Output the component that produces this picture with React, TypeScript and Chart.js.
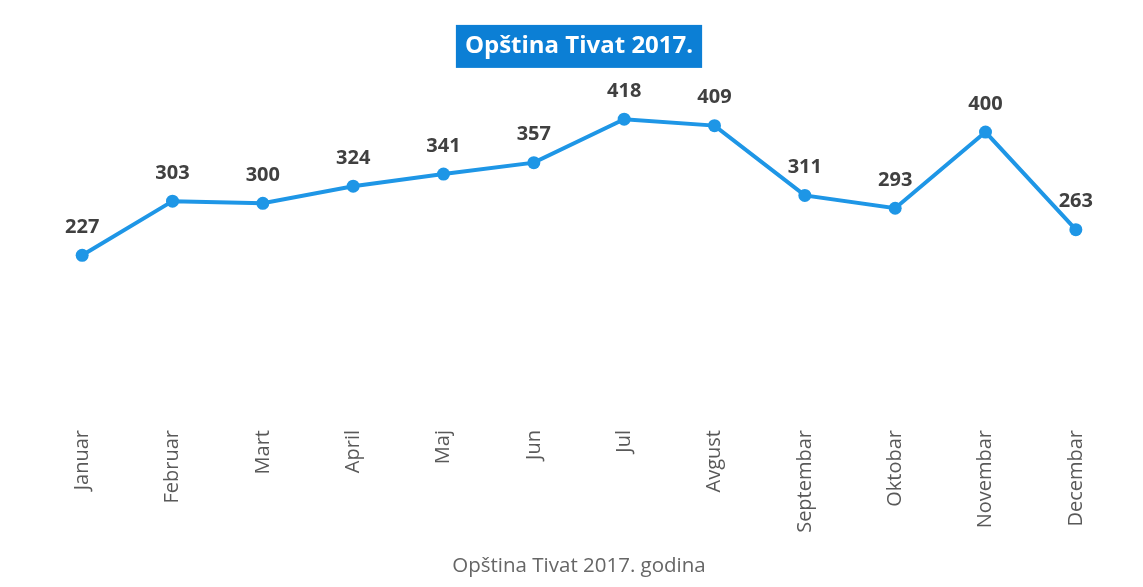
import React, { useEffect, useRef } from "react";
import { Chart, registerables } from "chart.js";

Chart.register(...registerables);

const months = [
  "Januar", "Februar", "Mart", "April", "Maj", "Jun",
  "Jul", "Avgust", "Septembar", "Oktobar", "Novembar", "Decembar",
];
const values = [227, 303, 300, 324, 341, 357, 418, 409, 311, 293, 400, 263];
const chartTitle = "Opština Tivat 2017.";
const seriesName = "Opština Tivat 2017. godina";

const LINE_COLOR = "#1e96e6";
const TITLE_BG = "#0c7fd5";
const TITLE_FONT = { family: "'Open Sans', sans-serif", size: 24, weight: "bold" as const };
const TITLE_PAD_TOP = 24;

const titleBgPlugin = {
  id: "titleBg",
  beforeDraw(chart: any) {
    const tb = chart.titleBlock;
    if (!tb) return;
    const ctx = chart.ctx;
    ctx.save();
    ctx.font = `bold ${TITLE_FONT.size}px ${TITLE_FONT.family}`;
    const w = ctx.measureText(chartTitle).width;
    const cx = (tb.left + tb.right) / 2;
    const cy = tb.top + TITLE_PAD_TOP + (TITLE_FONT.size * 1.2) / 2;
    const padX = 9;
    const h = 43;
    ctx.fillStyle = TITLE_BG;
    ctx.fillRect(cx - w / 2 - padX, cy - h / 2, w + padX * 2, h);
    ctx.restore();
  },
};

const valueLabelPlugin = {
  id: "valueLabels",
  afterDatasetsDraw(chart: any) {
    const ctx = chart.ctx;
    const meta = chart.getDatasetMeta(0);
    ctx.save();
    ctx.font = "bold 20px 'Open Sans', sans-serif";
    ctx.fillStyle = "#404040";
    ctx.textAlign = "center";
    ctx.textBaseline = "middle";
    meta.data.forEach((pt: any, i: number) => {
      ctx.fillText(String(values[i]), pt.x, pt.y - 28);
    });
    ctx.restore();
  },
};

export default function App() {
  const ref = useRef<HTMLCanvasElement | null>(null);

  useEffect(() => {
    if (!ref.current) return;
    const chart = new Chart(ref.current, {
      type: "line",
      data: {
        labels: months,
        datasets: [
          {
            label: seriesName,
            data: values,
            borderColor: LINE_COLOR,
            backgroundColor: LINE_COLOR,
            borderWidth: 4,
            pointRadius: 6.5,
            pointBackgroundColor: LINE_COLOR,
            pointBorderWidth: 0,
            tension: 0,
            clip: false as any,
          },
        ],
      },
      options: {
        animation: false,
        responsive: true,
        maintainAspectRatio: false,
        layout: { padding: { left: 29, right: 14, top: 0, bottom: 0 } },
        plugins: {
          legend: { display: false },
          tooltip: { enabled: false },
          title: {
            display: true,
            text: chartTitle,
            color: "#ffffff",
            font: TITLE_FONT,
            padding: { top: TITLE_PAD_TOP, bottom: 0 },
          },
        },
        scales: {
          x: {
            offset: true,
            grid: { display: false, drawTicks: false },
            border: { display: false },
            ticks: {
              autoSkip: false,
              minRotation: 90,
              maxRotation: 90,
              padding: 13,
              color: "#595959",
              font: { family: "'Open Sans', sans-serif", size: 20 },
            },
            title: {
              display: true,
              text: seriesName,
              color: "#666666",
              font: { family: "'Open Sans', sans-serif", size: 20.5 },
              padding: { top: 0, bottom: 1 },
            },
            afterFit(scale: any) {
              scale.height = 162;
            },
          },
          y: {
            display: false,
            min: 0,
            max: 500,
          },
        },
      },
      plugins: [titleBgPlugin, valueLabelPlugin],
    });
    return () => chart.destroy();
  }, []);

  return (
    <div style={{ position: "relative", width: "1127px", height: "571px" }}>
      <canvas ref={ref} />
    </div>
  );
}
